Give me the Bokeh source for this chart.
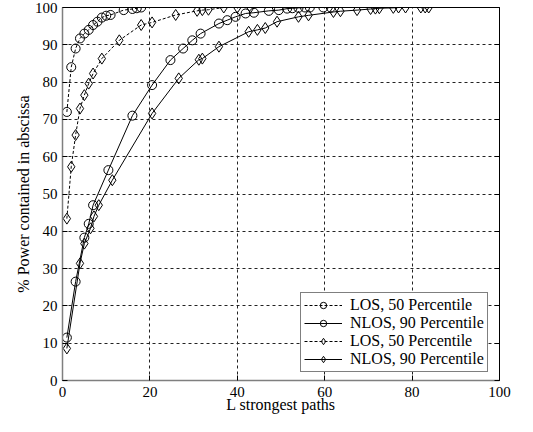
from bokeh.plotting import figure
from bokeh.models import Legend, LegendItem, LinearAxis, FixedTicker, Range1d
from bokeh.embed import file_html
from bokeh.resources import INLINE

# ---- data ----
los_c_x = [1, 2, 3, 4, 5, 6, 7, 8, 9, 10, 11, 14, 16, 17, 18]
los_c_y = [72, 84, 89, 91.7, 93, 94, 95.3, 96.2, 97.3, 97.8, 98, 99.3, 99.6, 99.8, 100]

nlos_c_x = [1, 3, 5, 6, 7, 10.5, 16, 20.5, 24.7, 27.6, 29.7, 31.6, 35.8, 37.7, 39.6,
            41.9, 43.8, 47.2, 49.5, 51.4, 52.6, 54, 55.5, 56.6, 59.7, 61.4]
nlos_c_y = [11.5, 26.5, 38.3, 42, 47, 56.4, 71, 79.2, 85.9, 89, 91.2, 93, 95.7, 96.6, 97.5,
            98.4, 98.6, 99.1, 99.3, 99.7, 99.8, 99.9, 100, 100, 100, 100]

los_d_x = [1, 2, 3, 4, 5, 6, 7, 9, 13, 18, 20.5, 25.9, 30.8, 32, 33.4, 36.9, 40, 43]
los_d_y = [43.4, 57.3, 65.8, 72.9, 76.5, 79.6, 82.3, 86.3, 91.2, 95.3, 96, 98, 99.1, 99.3, 99.4, 100, 100, 100]

nlos_d_x = [1, 4, 5, 6.4, 7.2, 8.3, 11.4, 20.5, 26.6, 31.2, 32, 35.8, 42.6, 44.6, 46.4,
            49.1, 54, 56.3, 62, 63.6, 67.4, 70.5, 71.6, 72.5, 75.7, 76.9, 78.5, 82, 83, 83.8]
nlos_d_y = [8.6, 31.4, 36.7, 40.8, 44, 47, 53.7, 71.6, 81, 86, 86.3, 89.5, 93.5, 94, 94.5,
            96.2, 97.5, 97.9, 98.8, 99, 99.3, 99.6, 99.7, 99.8, 99.9, 100, 100, 100, 100, 100]

legend_labels = ["LOS, 50 Percentile", "NLOS, 90 Percentile",
                 "LOS, 50 Percentile", "NLOS, 90 Percentile"]
x_ticks = [0, 20, 40, 60, 80, 100]
y_ticks = [0, 10, 20, 30, 40, 50, 60, 70, 80, 90, 100]

FONT = "'Liberation Serif', 'Times New Roman', serif"

p = figure(width=517, height=424, output_backend="svg", toolbar_location=None,
           x_range=Range1d(0, 100), y_range=Range1d(0, 100),
           min_border_left=62, min_border_right=18, min_border_top=7, min_border_bottom=44)
p.background_fill_color = "white"
p.border_fill_color = "white"
p.outline_line_color = "black"
p.outline_line_width = 1

# axes
for ax in (p.xaxis[0], p.yaxis[0]):
    ax.major_label_text_font = FONT
    ax.major_label_text_font_size = "15px"
    ax.major_label_text_color = "black"
    ax.axis_label_text_font = FONT
    ax.axis_label_text_font_size = "16px"
    ax.axis_label_text_font_style = "normal"
    ax.axis_label_text_color = "black"
    ax.major_tick_in = 5
    ax.major_tick_out = 0
    ax.minor_tick_line_color = None
    ax.major_tick_line_color = "black"
    ax.axis_line_color = "#7f7f7f"
    ax.axis_line_width = 1.5
p.xaxis[0].ticker = FixedTicker(ticks=x_ticks)
p.yaxis[0].ticker = FixedTicker(ticks=y_ticks)
p.xaxis[0].axis_label = "L strongest paths"
p.yaxis[0].axis_label = "% Power contained in abscissa"
p.xaxis[0].major_label_standoff = 6
p.xaxis[0].axis_label_standoff = -4
p.yaxis[0].major_label_standoff = 5
p.yaxis[0].axis_label_standoff = 0

rax = LinearAxis(ticker=FixedTicker(ticks=y_ticks))
rax.major_label_text_color = None
rax.major_label_text_font_size = "1px"
rax.major_tick_in = 5
rax.major_tick_out = 0
rax.minor_tick_line_color = None
rax.axis_line_color = "black"
p.add_layout(rax, "right")

# grid
p.xgrid.ticker = FixedTicker(ticks=x_ticks)
p.ygrid.ticker = FixedTicker(ticks=y_ticks)
for g in (p.xgrid[0], p.ygrid[0]):
    g.grid_line_color = "#222222"
    g.grid_line_dash = "3 3"
    g.grid_line_width = 1

# series
series = [
    (los_c_x, los_c_y, "circle", "3 2", 9),
    (nlos_c_x, nlos_c_y, "circle", "solid", 9),
    (los_d_x, los_d_y, "diamond", "3 2", 11),
    (nlos_d_x, nlos_d_y, "diamond", "solid", 11),
]
items = []
for (xs, ys, mk, dash, sz), lab in zip(series, legend_labels):
    ln = p.line(xs, ys, line_color="black", line_width=1, line_dash=dash)
    sc = p.scatter(xs, ys, marker=mk, size=sz, line_color="black", line_width=1,
                   fill_color="white", fill_alpha=0.0)
    items.append(LegendItem(label=lab, renderers=[ln, sc]))

legend = Legend(items=items, location=(238, 8))
legend.label_text_font = FONT
legend.label_text_font_size = "16px"
legend.label_text_color = "black"
legend.border_line_color = "black"
legend.border_line_width = 1
legend.background_fill_color = "white"
legend.background_fill_alpha = 1.0
legend.glyph_width = 38
legend.glyph_height = 16
legend.label_height = 16
legend.label_standoff = 8
legend.spacing = 0
legend.padding = 3
legend.margin = 0
p.add_layout(legend, "center")

open("out.html", "w").write(file_html(p, INLINE))
